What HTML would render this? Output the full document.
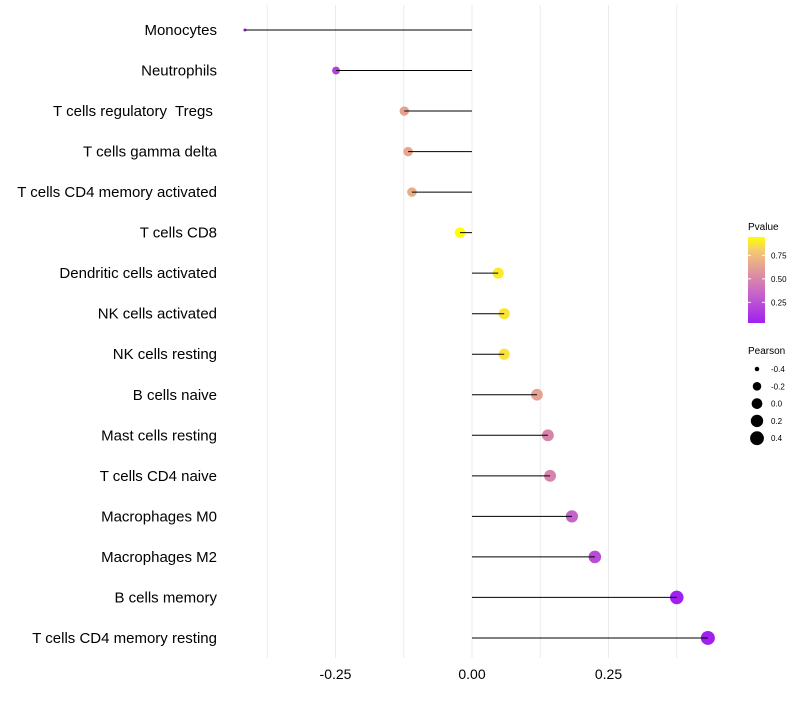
<!DOCTYPE html>
<html><head><meta charset="utf-8"><style>
body{margin:0;background:#fff;font-family:"Liberation Sans",Arial,sans-serif}
svg text{font-family:"Liberation Sans",Arial,sans-serif;white-space:pre}
</style></head><body>
<svg id="chart" width="800" height="700">
<defs><linearGradient id="pg" x1="0" y1="1" x2="0" y2="0">
<stop offset="0" stop-color="#a020f0"/><stop offset="0.35" stop-color="#c866c8"/><stop offset="0.6" stop-color="#e0969c"/><stop offset="0.85" stop-color="#f5cc70"/><stop offset="1" stop-color="#ffff00"/></linearGradient></defs>
<g id="grid"></g><g id="marks"></g><g id="ylabels"></g><g id="xlabels"></g>
<g>
<text x="748" y="230" font-size="10" fill="#000">Pvalue</text>
<rect x="748" y="237" width="17" height="86" fill="url(#pg)"/>
<g id="cbticks"></g>
</g>
<g>
<text x="748" y="354" font-size="10" fill="#000">Pearson</text>
<g id="sizeleg"></g>
</g>
</svg>
<script>
const categories=["Monocytes","Neutrophils","T cells regulatory  Tregs ","T cells gamma delta","T cells CD4 memory activated","T cells CD8","Dendritic cells activated","NK cells activated","NK cells resting","B cells naive","Mast cells resting","T cells CD4 naive","Macrophages M0","Macrophages M2","B cells memory","T cells CD4 memory resting"];
const pearson=[-0.416,-0.249,-0.124,-0.117,-0.110,-0.022,0.048,0.059,0.059,0.119,0.139,0.143,0.183,0.225,0.375,0.432];
const pvalue=[0.02,0.17,0.6,0.62,0.65,0.95,0.85,0.83,0.83,0.6,0.47,0.47,0.32,0.22,0.03,0.02];
const xTicks=[-0.25,0,0.25];
const xTickLabels=["-0.25","0.00","0.25"];
const cbTicks=[0.25,0.5,0.75];
const sizeLegend=[-0.4,-0.2,0,0.2,0.4];
const NS="http://www.w3.org/2000/svg";
const x=v=>472+v*546;
const y=i=>30+i*40.53;
const r=v=>1.5+5.5*Math.sqrt(Math.max(0,(v+0.416)/0.848));
const cy=p=>323-(p-0.03)*94;
function col(p){const s=[[0,[160,32,240]],[0.35,[200,102,200]],[0.6,[224,150,156]],[0.85,[245,204,112]],[1,[255,255,0]]];
 const t=(p-0.03)/0.87;for(let k=1;k<s.length;k++){if(t<=s[k][0]||k==s.length-1){const a=s[k-1],b=s[k];let f=Math.min(1,Math.max(0,(t-a[0])/(b[0]-a[0])));return `rgb(${a[1].map((c,j)=>Math.round(c+(b[1][j]-c)*f)).join(',')})`;}}}
function mk(tag,attrs,parent){const e=document.createElementNS(NS,tag);for(const k in attrs)e.setAttribute(k,attrs[k]);parent.appendChild(e);return e;}
const grid=document.getElementById('grid'),marks=document.getElementById('marks'),yl=document.getElementById('ylabels'),xl=document.getElementById('xlabels');
[-0.375,-0.25,-0.125,0,0.125,0.25,0.375].forEach(v=>{const l=mk('line',{x1:x(v),x2:x(v),y1:5,y2:658,stroke:'#ebebeb','stroke-width':1},grid);

});
categories.forEach((c,i)=>{
 const t=mk('text',{x:217,y:y(i)+5,'text-anchor':'end','font-size':15,fill:'#000'},yl);t.textContent=c;
 
 
 const ci=mk('circle',{cx:x(pearson[i]),cy:y(i),r:r(pearson[i]),fill:col(pvalue[i])},marks);
 
 
 const l=mk('line',{x1:x(0),x2:x(pearson[i]),y1:y(i),y2:y(i),stroke:'#000','stroke-width':1},marks);
 
 
});
xTicks.forEach((v,i)=>{const t=mk('text',{x:x(v),y:679,'text-anchor':'middle','font-size':14,fill:'#000'},xl);t.textContent=xTickLabels[i];

});
const cb=document.getElementById('cbticks');
cbTicks.forEach(p=>{mk('line',{x1:748,x2:751,y1:cy(p),y2:cy(p),stroke:'#fff'},cb);mk('line',{x1:762,x2:765,y1:cy(p),y2:cy(p),stroke:'#fff'},cb);
const t=mk('text',{x:771,y:cy(p)+3,'font-size':8,fill:'#000'},cb);t.textContent=p.toFixed(2);

});
const sl=document.getElementById('sizeleg');
sizeLegend.forEach((v,i)=>{const yy=369+i*17.3;const c=mk('circle',{cx:757,cy:yy,r:r(v),fill:'#000'},sl);


const t=mk('text',{x:771,y:yy+3,'font-size':8,fill:'#000'},sl);t.textContent=v.toFixed(1);

});
</script>
</body></html>
